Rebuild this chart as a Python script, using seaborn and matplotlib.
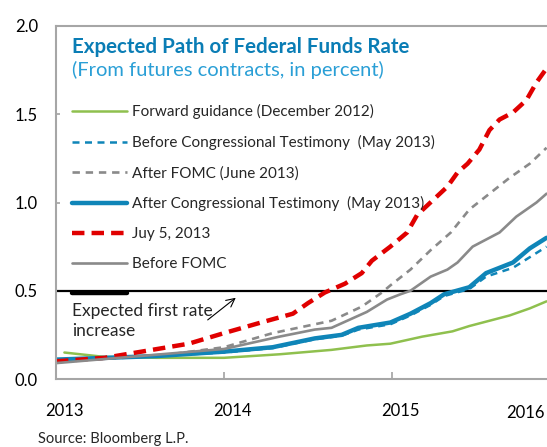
import matplotlib
matplotlib.use('Agg')
import matplotlib.pyplot as plt
import matplotlib.transforms as mtransforms
from matplotlib.lines import Line2D
import seaborn as sns
import pandas as pd

# ── data (year fraction, percent) ──
fwd_t = [2013.05, 2013.29, 2013.6, 2014.0, 2014.33, 2014.64, 2014.85, 2014.99, 2015.18,
         2015.36, 2015.46, 2015.54, 2015.70, 2015.82, 2015.92]
fwd_v = [0.15, 0.125, 0.12, 0.12, 0.14, 0.165, 0.19, 0.20, 0.24, 0.27, 0.30, 0.32, 0.36, 0.40, 0.44]

before_ct_t = [2013.0, 2013.6, 2014.0, 2014.29, 2014.54, 2014.70, 2014.80, 2014.99, 2015.11,
               2015.23, 2015.31, 2015.46, 2015.56, 2015.72, 2015.82, 2015.92]
before_ct_v = [0.11, 0.13, 0.15, 0.175, 0.225, 0.245, 0.28, 0.31, 0.36, 0.42, 0.47, 0.51, 0.58,
               0.63, 0.69, 0.75]

after_fomc_t = [2013.0, 2013.6, 2014.0, 2014.29, 2014.54, 2014.64, 2014.82, 2014.94, 2014.99,
                2015.11, 2015.23, 2015.35, 2015.46, 2015.58, 2015.70, 2015.82, 2015.92]
after_fomc_v = [0.10, 0.13, 0.18, 0.26, 0.31, 0.33, 0.41, 0.49, 0.53, 0.62, 0.73, 0.83, 0.96,
                1.05, 1.14, 1.22, 1.31]

after_ct_t = [2013.0, 2013.6, 2014.0, 2014.29, 2014.54, 2014.70, 2014.80, 2014.99, 2015.11,
              2015.23, 2015.31, 2015.46, 2015.56, 2015.72, 2015.82, 2015.92]
after_ct_v = [0.11, 0.13, 0.155, 0.18, 0.23, 0.25, 0.29, 0.32, 0.37, 0.43, 0.48, 0.52, 0.60,
              0.66, 0.74, 0.80]

july5_t = [2013.0, 2013.29, 2013.54, 2013.79, 2014.0, 2014.22, 2014.41, 2014.5, 2014.6,
           2014.72, 2014.82, 2014.88, 2014.99, 2015.09, 2015.15, 2015.24, 2015.33, 2015.39,
           2015.45, 2015.52, 2015.58, 2015.64, 2015.72, 2015.80, 2015.86, 2015.92]
july5_v = [0.10, 0.12, 0.16, 0.20, 0.26, 0.32, 0.37, 0.43, 0.49, 0.54, 0.60, 0.67, 0.75, 0.83,
           0.93, 1.01, 1.09, 1.17, 1.22, 1.30, 1.41, 1.47, 1.51, 1.58, 1.68, 1.76]

before_fomc_t = [2013.0, 2014.0, 2014.33, 2014.54, 2014.64, 2014.85, 2014.97, 2015.05, 2015.11,
                 2015.23, 2015.33, 2015.39, 2015.48, 2015.64, 2015.74, 2015.86, 2015.92]
before_fomc_v = [0.09, 0.17, 0.24, 0.28, 0.29, 0.38, 0.45, 0.48, 0.50, 0.58, 0.62, 0.66, 0.75,
                 0.83, 0.92, 1.00, 1.05]

first_hike_level = 0.5

labels = ['Forward guidance (December 2012)',
          'Before Congressional Testimony  (May 2013)',
          'After FOMC (June 2013)',
          'After Congressional Testimony  (May 2013)',
          'Juy 5, 2013',
          'Before FOMC']
year_ticks = [2013, 2014, 2015]
year_labels = ['2013', '2014', '2015', '2016']
y_ticks = [0.0, 0.5, 1.0, 1.5, 2.0]

GREEN = '#8fc04e'
BLUE = '#0f85b8'
GRAY = '#8a8a8a'
RED = '#e00000'

sns.set_theme(style='white')
plt.rcParams['font.family'] = ['Lato', 'DejaVu Sans']

fig = plt.figure(figsize=(5.47, 4.47), dpi=100)
ax = fig.add_axes([56 / 547, 68 / 447, 491 / 547, 353 / 447])

series = [
    (fwd_t, fwd_v, dict(color=GREEN, linewidth=1.8)),
    (before_ct_t, before_ct_v, dict(color=BLUE, linewidth=1.8, dashes=(2.8, 2.2))),
    (after_fomc_t, after_fomc_v, dict(color=GRAY, linewidth=1.9, dashes=(2.8, 2.2))),
    (after_ct_t, after_ct_v, dict(color=BLUE, linewidth=3.2)),
    (july5_t, july5_v, dict(color=RED, linewidth=3.2, dashes=(2.8, 1.6))),
    (before_fomc_t, before_fomc_v, dict(color=GRAY, linewidth=1.9)),
]

handles = []
for (t, v, style), lab in zip(series, labels):
    df = pd.DataFrame({'year': t, 'rate': v})
    sns.lineplot(data=df, x='year', y='rate', ax=ax, **style)
    handles.append(Line2D([], [], **style))

# expected first rate increase level
ax.axhline(first_hike_level, color='black', linewidth=1.6, zorder=1)
handles.append(Line2D([], [], color='black', linewidth=3.2))

ax.set_xlim(2013, 2013 + 491 / 168)
ax.set_ylim(0, 2.0)
ax.set_xlabel('')
ax.set_ylabel('')

for side in ['left', 'bottom', 'top']:
    ax.spines[side].set_color('#a6a6a6')
    ax.spines[side].set_linewidth(1.5)
ax.spines['right'].set_visible(False)

ax.set_yticks(y_ticks)
ax.set_yticklabels([f'{v:.1f}' for v in y_ticks])
ax.tick_params(axis='y', direction='in', length=3, color='#a6a6a6', pad=13,
               labelsize=12, labelcolor='black', left=True)
ax.set_xticks(year_ticks)
ax.set_xticklabels(year_labels[:3])
ax.tick_params(axis='x', direction='in', length=5, color='#a6a6a6', pad=17,
               labelsize=12, labelcolor='black', bottom=True)
shift = mtransforms.ScaledTranslation(8 / 100, 0, fig.dpi_scale_trans)
for lbl in ax.get_xticklabels():
    lbl.set_transform(lbl.get_transform() + shift)
ax.text(0.995, -0.095, year_labels[3], transform=ax.transAxes, ha='right', va='center',
        fontsize=12, color='black')

leg = ax.legend(handles, labels + [''], loc='upper left',
                bbox_to_anchor=(72 / 547, 1 - 104 / 447), bbox_transform=fig.transFigure,
                frameon=False, fontsize=11, handlelength=3.6, handletextpad=0.35,
                labelspacing=1.04, borderaxespad=0, borderpad=0)

fig.text(72 / 547, 1 - 53 / 447, 'Expected Path of Federal Funds Rate', fontsize=14.8,
         fontweight='bold', color='#0a7db5', va='baseline')
fig.text(72 / 547, 1 - 76 / 447, '(From futures contracts, in percent)', fontsize=14.5,
         color='#2a9fd6', va='baseline')

ax.text(72 / 547, 1 - 303 / 447, 'Expected first rate\nincrease', transform=fig.transFigure,
        fontsize=12.5, va='top', ha='left', linespacing=1.3)
ax.annotate('', xy=(2014.083, 0.47), xytext=(2013.89, 0.325),
            arrowprops=dict(arrowstyle='->,head_length=0.5,head_width=0.25', lw=0.8,
                            color='black'))

fig.text(38 / 547, 4 / 447, 'Source: Bloomberg L.P.', fontsize=10.6, va='baseline')

fig.savefig('out.png', dpi=100)
